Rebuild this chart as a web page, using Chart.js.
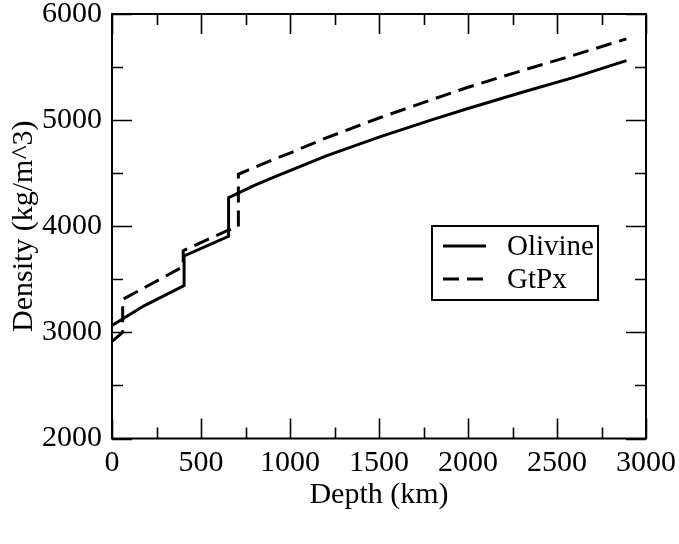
<!DOCTYPE html>
<html><head><meta charset="utf-8">
<script src="https://cdn.jsdelivr.net/npm/chart.js@4/dist/chart.umd.min.js"></script>
<style>html,body{margin:0;padding:0;background:#fff}canvas{display:block}</style>
</head><body>
<canvas id="c" width="679" height="544"></canvas>
<script>
// Data
const olivineDepth   = [0,    180,  405,  405,  655,  655,  700,  800,  900,  1000, 1200, 1500, 1800, 2000, 2300, 2600, 2890];
const olivineDensity = [3065, 3250, 3440, 3720, 3905, 4270, 4305, 4385, 4455, 4525, 4660, 4840, 5005, 5110, 5260, 5405, 5560];
const gtpxDepth      = [0,    60,   60,   400,  400,  650,  710,  710,  800,  900,  1000, 1200, 1500, 1800, 2000, 2300, 2600, 2890];
const gtpxDensity    = [2915, 3000, 3310, 3620, 3770, 3960, 3995, 4490, 4555, 4625, 4690, 4830, 5020, 5195, 5310, 5465, 5615, 5765];
const seriesLabels   = ['Olivine', 'GtPx'];
const xTicks = [0, 500, 1000, 1500, 2000, 2500, 3000];
const yTicks = [2000, 3000, 4000, 5000, 6000];
const xTitle = 'Depth (km)';
const yTitle = 'Density (kg/m^3)';

const FONT = 'Liberation Serif';
const pts = (xs, ys) => xs.map((x, i) => ({x, y: ys[i]}));

const frame = {
  id: 'frame',
  afterDatasetsDraw(chart) {
    const {ctx, chartArea: a, scales: {x, y}} = chart;
    ctx.save();
    ctx.strokeStyle = '#000';
    ctx.lineWidth = 2;
    ctx.strokeRect(a.left, a.top, a.right - a.left, a.bottom - a.top);
    ctx.lineWidth = 1.6;
    ctx.beginPath();
    const MAJ = 20, MIN = 11;
    for (let v = x.min; v <= x.max + 1e-6; v += 250) {
      const p = Math.round(x.getPixelForValue(v)) + 0.5;
      const L = (v % 500 === 0) ? MAJ : MIN;
      ctx.moveTo(p, a.bottom); ctx.lineTo(p, a.bottom - L);
      ctx.moveTo(p, a.top); ctx.lineTo(p, a.top + L);
    }
    for (let v = y.min; v <= y.max + 1e-6; v += 500) {
      const p = Math.round(y.getPixelForValue(v)) + 0.5;
      const L = (v % 1000 === 0) ? MAJ : MIN;
      ctx.moveTo(a.left, p); ctx.lineTo(a.left + L, p);
      ctx.moveTo(a.right, p); ctx.lineTo(a.right - L, p);
    }
    ctx.stroke();

    // legend box inside plot
    const bx = 432, by = 226, bw = 166, bh = 74;
    ctx.fillStyle = '#fff';
    ctx.fillRect(bx, by, bw, bh);
    ctx.lineWidth = 2;
    ctx.strokeRect(bx, by, bw, bh);
    const rows = [246, 279];
    chart.data.datasets.forEach((ds, i) => {
      ctx.beginPath();
      ctx.lineWidth = ds.borderWidth;
      ctx.setLineDash(ds.borderDash || []);
      ctx.moveTo(443, rows[i]); ctx.lineTo(486, rows[i]);
      ctx.stroke();
      ctx.setLineDash([]);
      ctx.fillStyle = '#000';
      ctx.font = '29px "' + FONT + '"';
      ctx.textBaseline = 'middle';
      ctx.textAlign = 'left';
      ctx.fillText(ds.label, 507, rows[i] + 1);
    });
    ctx.restore();
  }
};

new Chart(document.getElementById('c'), {
  type: 'line',
  data: {
    datasets: [
      {label: seriesLabels[0], data: pts(olivineDepth, olivineDensity), borderColor: '#000', borderWidth: 3, pointRadius: 0, tension: 0, fill: false},
      {label: seriesLabels[1], data: pts(gtpxDepth, gtpxDensity), borderColor: '#000', borderWidth: 3, borderDash: [16, 8], pointRadius: 0, tension: 0, fill: false}
    ]
  },
  options: {
    responsive: false,
    animation: false,
    devicePixelRatio: 1,
    layout: {padding: {top: 14, right: 33, left: 0, bottom: 0}},
    plugins: {legend: {display: false}, tooltip: {enabled: false}},
    scales: {
      x: {
        type: 'linear', min: 0, max: 3000,
        afterBuildTicks: s => { s.ticks = xTicks.map(v => ({value: v})); },
        afterFit: s => { s.height = 105.5; s.paddingLeft = 0; s.paddingRight = 0; },
        ticks: {color: '#000', font: {family: FONT, size: 30}, padding: 7, maxRotation: 0, callback: v => String(v)},
        grid: {display: false, drawTicks: false},
        border: {display: false},
        title: {display: true, text: xTitle, color: '#000', font: {family: FONT, size: 30}, padding: {top: 0, bottom: 31}}
      },
      y: {
        type: 'linear', min: 2000, max: 6000,
        afterBuildTicks: s => { s.ticks = yTicks.map(v => ({value: v})); },
        afterFit: s => { s.width = 112; s.paddingTop = 0; s.paddingBottom = 0; },
        ticks: {color: '#000', font: {family: FONT, size: 30}, padding: 10, callback: v => String(v)},
        grid: {display: false, drawTicks: false},
        border: {display: false},
        title: {display: true, text: yTitle, color: '#000', font: {family: FONT, size: 30}, padding: {top: 6, bottom: 0}}
      }
    }
  },
  plugins: [frame]
});
</script>
</body></html>
